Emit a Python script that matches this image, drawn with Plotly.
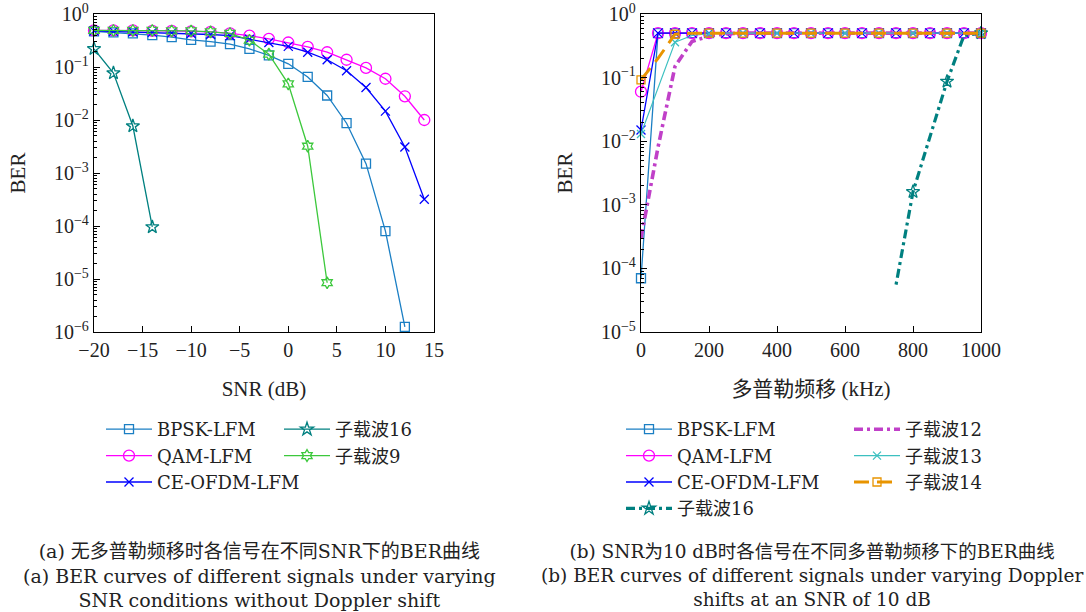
import plotly.graph_objects as go

# ---------------- data: panel (a) ----------------
snr = [-20, -18, -16, -14, -12, -10, -8, -6, -4, -2, 0, 2, 4, 6, 8, 10, 12, 14]
ber_bpsk_a = [0.47, 0.45, 0.43, 0.40, 0.365, 0.325, 0.30, 0.27, 0.22, 0.165, 0.115, 0.065,
              0.029, 0.0087, 0.0015, 8.0e-5, 1.25e-6]
ber_qam_a = [0.49, 0.49, 0.49, 0.48, 0.48, 0.47, 0.46, 0.43, 0.39, 0.34, 0.29, 0.24,
             0.19, 0.137, 0.096, 0.06, 0.028, 0.01]
ber_ce_a = [0.48, 0.47, 0.46, 0.45, 0.44, 0.43, 0.41, 0.39, 0.335, 0.29, 0.245, 0.19,
            0.137, 0.085, 0.041, 0.0147, 0.0031, 3.2e-4]
ber_sub16_a = [0.22, 0.077, 0.0077, 9.6e-5]
ber_sub9_a = [0.49, 0.49, 0.49, 0.49, 0.48, 0.48, 0.46, 0.43, 0.32, 0.175, 0.048, 0.0032, 8.5e-6]

# ---------------- data: panel (b) ----------------
doppler = [0, 50, 100, 150, 200, 250, 300, 350, 400, 450, 500, 550, 600, 650, 700,
           750, 800, 850, 900, 950, 1000]
ber_bpsk_b = [7e-5, 0.5, 0.5, 0.5, 0.5, 0.5, 0.5, 0.5, 0.5, 0.5, 0.5, 0.5, 0.5, 0.5, 0.5,
              0.5, 0.5, 0.5, 0.5, 0.5, 0.5]
ber_qam_b = [0.06, 0.5, 0.5, 0.5, 0.5, 0.5, 0.5, 0.5, 0.5, 0.5, 0.5, 0.5, 0.5, 0.5, 0.5,
             0.5, 0.5, 0.5, 0.5, 0.5, 0.5]
ber_ce_b = [0.015, 0.5, 0.5, 0.5, 0.5, 0.5, 0.5, 0.5, 0.5, 0.5, 0.5, 0.5, 0.5, 0.5, 0.5,
            0.5, 0.5, 0.5, 0.5, 0.5, 0.5]
ber_sub12_b = [3e-4, 0.008, 0.15, 0.37, 0.45, 0.49, 0.5, 0.5, 0.5, 0.5, 0.5, 0.5, 0.5,
               0.5, 0.5, 0.5, 0.5, 0.5, 0.5, 0.5, 0.5]
ber_sub13_b = [0.013, 0.07, 0.36, 0.46, 0.49, 0.5, 0.5, 0.5, 0.5, 0.5, 0.5, 0.5, 0.5,
               0.5, 0.5, 0.5, 0.5, 0.5, 0.5, 0.5, 0.5]
ber_sub14_b = [0.092, 0.2, 0.48, 0.5, 0.5, 0.5, 0.5, 0.5, 0.5, 0.5, 0.5, 0.5, 0.5,
               0.5, 0.5, 0.5, 0.5, 0.5, 0.5, 0.5, 0.5]
doppler_sub16 = [750, 800, 900, 950, 1000]
ber_sub16_b = [5.5e-5, 1.6e-3, 0.087, 0.46, 0.5]

# tick labels
ytick_vals_a = [1, 1e-1, 1e-2, 1e-3, 1e-4, 1e-5, 1e-6]
ytick_text_a = ["10<sup>0</sup>", "10<sup>−1</sup>", "10<sup>−2</sup>", "10<sup>−3</sup>",
                "10<sup>−4</sup>", "10<sup>−5</sup>", "10<sup>−6</sup>"]
ytick_vals_b = [1, 1e-1, 1e-2, 1e-3, 1e-4, 1e-5]
ytick_text_b = ["10<sup>0</sup>", "10<sup>−1</sup>", "10<sup>−2</sup>", "10<sup>−3</sup>",
                "10<sup>−4</sup>", "10<sup>−5</sup>"]
xtick_vals_a = [-20, -15, -10, -5, 0, 5, 10, 15]
xtick_vals_b = [0, 200, 400, 600, 800, 1000]

# ---------------- styling ----------------
FONT = "Liberation Serif, Noto Sans CJK SC, serif"
FONT_WIDE = "DejaVu Serif, Noto Sans CJK SC, serif"
C_BPSK = "#1b7fc4"
C_QAM = "#ff00ff"
C_CE = "#0000ff"
C_SUB16 = "#008080"
C_SUB9 = "#3cc83c"
C_SUB12 = "#c040c8"
C_SUB13 = "#3cc0c0"
C_SUB14 = "#e89400"
CLEAR = "rgba(0,0,0,0)"

def every100_colors(xs, color):
    # markers shown only at multiples of 100 kHz (others transparent)
    return [color if v % 100 == 0 else CLEAR for v in xs]

fig = go.Figure()

def add(x, y, name, color, symbol, size, width, xa, ya, legend, dash="solid", mcolor=None):
    fig.add_trace(go.Scatter(
        x=x, y=y, name=name, mode="lines+markers" if symbol else "lines",
        line=dict(color=color, width=width, dash=dash),
        marker=dict(symbol=symbol or "circle", size=size,
                    color=mcolor if mcolor is not None else color, line=dict(width=1.3)),
        xaxis=xa, yaxis=ya, legend=legend, cliponaxis=False,
    ))

# panel (a)
add(snr[:len(ber_bpsk_a)], ber_bpsk_a, "BPSK-LFM", C_BPSK, "square-open", 9, 1.3, "x", "y", "legend")
add(snr, ber_qam_a, "QAM-LFM", C_QAM, "circle-open", 11, 1.3, "x", "y", "legend")
add(snr, ber_ce_a, "CE-OFDM-LFM", C_CE, "x-thin-open", 9, 1.3, "x", "y", "legend")
add(snr[:len(ber_sub16_a)], ber_sub16_a, "子载波16", C_SUB16, "star-open", 10, 1.3, "x", "y", "legend2")
add(snr[:len(ber_sub9_a)], ber_sub9_a, "子载波9", C_SUB9, "hexagram-open", 9, 1.3, "x", "y", "legend2")

# panel (b)
add(doppler, ber_bpsk_b, "BPSK-LFM", C_BPSK, "square-open", 9, 1.3, "x2", "y2", "legend3")
add(doppler, ber_qam_b, "QAM-LFM", C_QAM, "circle-open", 11, 1.3, "x2", "y2", "legend3")
add(doppler, ber_ce_b, "CE-OFDM-LFM", C_CE, "x-thin-open", 9, 1.3, "x2", "y2", "legend3")
# drawn from 1000 kHz back to 750 kHz (same polyline) so the legend picks a visible marker
add(doppler_sub16[::-1], ber_sub16_b[::-1], "子载波16", C_SUB16, "star-open", 10, 3.2, "x2", "y2",
    "legend3", dash="9px,4px,3px,4px", mcolor=every100_colors(doppler_sub16[::-1], C_SUB16))
add(doppler, ber_sub12_b, "子载波12", C_SUB12, None, 0, 3.6, "x2", "y2", "legend4",
    dash="9px,4px,3px,4px")
add(doppler, ber_sub13_b, "子载波13", C_SUB13, "x-thin-open", 8, 1.1, "x2", "y2", "legend4",
    mcolor=every100_colors(doppler, C_SUB13))
add(doppler, ber_sub14_b, "子载波14", C_SUB14, "square-open", 8, 3.0, "x2", "y2", "legend4",
    dash="15px,8px", mcolor=every100_colors(doppler, C_SUB14))

W, H = 1086, 612
def px_x(p):
    return p / W
def px_y(p):
    return 1 - p / H

axis_common = dict(
    showline=True, linecolor="black", linewidth=1.3, mirror=True,
    ticks="inside", tickcolor="black", ticklen=6, tickwidth=1.2,
    showgrid=False, zeroline=False, automargin=False,
    tickfont=dict(family=FONT, size=20, color="#222"),
)
title_font = dict(family=FONT, size=21, color="#222")

fig.update_layout(
    width=W, height=H,
    margin=dict(l=0, r=0, t=0, b=0),
    paper_bgcolor="white", plot_bgcolor="white",
    font=dict(family=FONT, color="#222"),
    showlegend=True,
    xaxis=dict(domain=[px_x(94), px_x(434)], range=[-20, 15], anchor="y",
               tickvals=xtick_vals_a,
               title=dict(text="SNR (dB)", font=title_font, standoff=21),
               **axis_common),
    yaxis=dict(domain=[px_y(332), px_y(14)], type="log", range=[-6, 0], anchor="x",
               tickvals=ytick_vals_a, ticktext=ytick_text_a,
               minor=dict(ticks="inside", ticklen=3, tickcolor="black", dtick="D1", showgrid=False),
               title=dict(text="BER", font=title_font, standoff=22),
               **axis_common),
    xaxis2=dict(domain=[px_x(641), px_x(981)], range=[0, 1000], anchor="y2",
                tickvals=xtick_vals_b,
                title=dict(text="多普勒频移 (kHz)", font=title_font, standoff=21),
                **axis_common),
    yaxis2=dict(domain=[px_y(332), px_y(14)], type="log", range=[-5, 0], anchor="x2",
                tickvals=ytick_vals_b, ticktext=ytick_text_b,
                minor=dict(ticks="inside", ticklen=3, tickcolor="black", dtick="D1", showgrid=False),
                title=dict(text="BER", font=title_font, standoff=22),
                **axis_common),
)

leg_common = dict(orientation="v", xanchor="left", yanchor="top", bgcolor="rgba(0,0,0,0)",
                  borderwidth=0, font=dict(family=FONT_WIDE, size=18, color="#222"),
                  itemwidth=46, tracegroupgap=0)
fig.update_layout(
    legend=dict(x=px_x(101), y=px_y(411), **leg_common),
    legend2=dict(x=px_x(279), y=px_y(411), **leg_common),
    legend3=dict(x=px_x(621), y=px_y(411), **leg_common),
    legend4=dict(x=px_x(849), y=px_y(411), **leg_common),
)

fig.add_annotation(
    x=px_x(259), y=px_y(575), xref="paper", yref="paper", showarrow=False,
    xanchor="center", yanchor="middle", align="center",
    font=dict(family=FONT_WIDE, size=19, color="#222"),
    text="(a) 无多普勒频移时各信号在不同SNR下的BER曲线<br>"
         "(a) BER curves of different signals under varying<br>"
         "SNR conditions without Doppler shift",
)
fig.add_annotation(
    x=px_x(812), y=px_y(575), xref="paper", yref="paper", showarrow=False,
    xanchor="center", yanchor="middle", align="center",
    font=dict(family=FONT_WIDE, size=18.5, color="#222"),
    text="(b) SNR为10 dB时各信号在不同多普勒频移下的BER曲线<br>"
         "(b) BER curves of different signals under varying Doppler<br>"
         "shifts at an SNR of 10 dB",
)

fig.write_html("out.html", config={"displayModeBar": False},
               post_script="document.body.style.margin='0px';")
